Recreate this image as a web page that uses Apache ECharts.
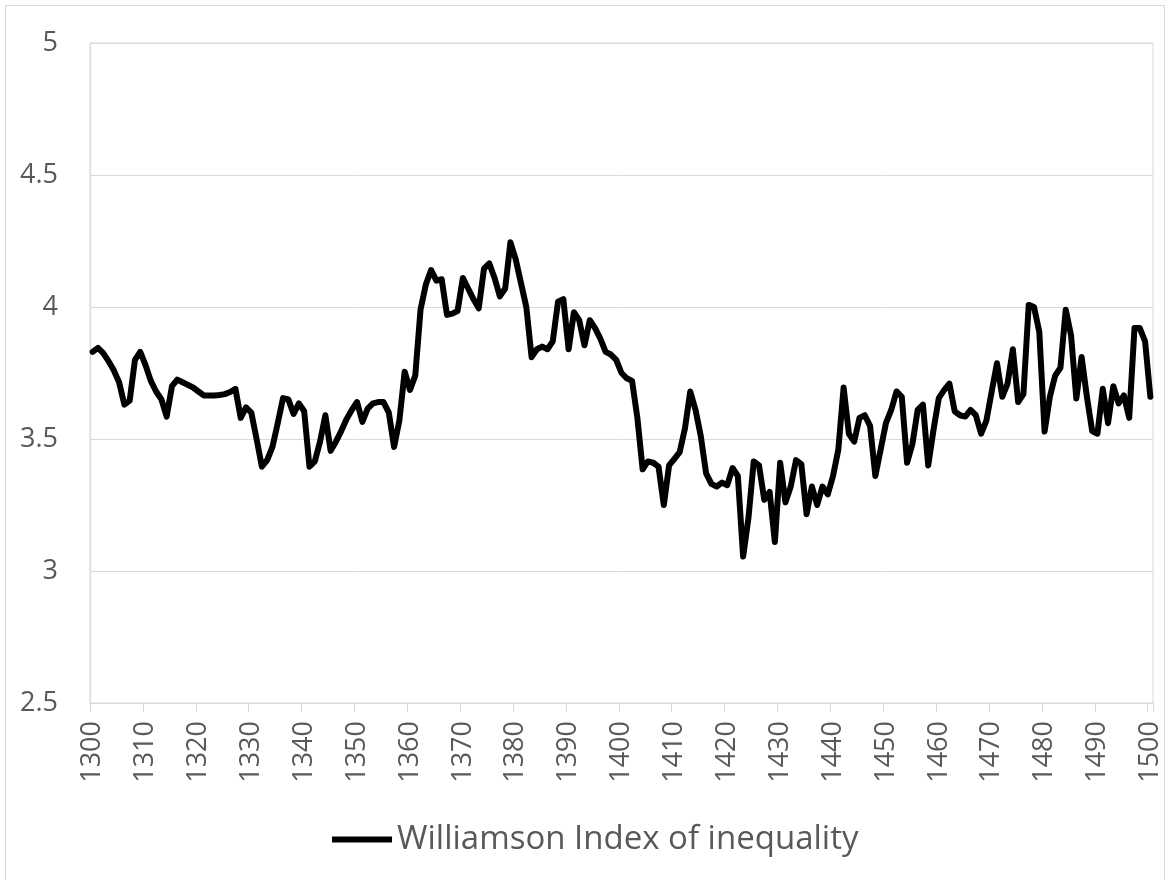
<!DOCTYPE html>
<html>
<head>
<meta charset="utf-8">
<title>Williamson Index of inequality</title>
<script src="https://cdn.jsdelivr.net/npm/echarts@6/dist/echarts.min.js"></script>
<style>
  html, body { margin: 0; padding: 0; background: #fff; }
  #chart { width: 1170px; height: 880px; }
</style>
</head>
<body>
<div id="chart"></div>
<script>
// years 1300..1500, one value per year
const firstYear = 1300;
const lastYear = 1500;
const years = [];
for (let y = firstYear; y <= lastYear; y++) years.push(String(y));

const seriesName = 'Williamson Index of inequality';

// year by year
const williamson = [
  3.83, 3.845, 3.825, 3.795, 3.76, 3.715, 3.63, 3.645, 3.80, 3.83,   // 1300
  3.78, 3.72, 3.68, 3.65, 3.585, 3.70, 3.725, 3.715, 3.705, 3.695,   // 1310
  3.68, 3.665, 3.665, 3.665, 3.667, 3.67, 3.678, 3.69, 3.58, 3.62,   // 1320
  3.60, 3.50, 3.395, 3.42, 3.47, 3.56, 3.655, 3.65, 3.595, 3.635,    // 1330
  3.605, 3.395, 3.415, 3.49, 3.59, 3.455, 3.49, 3.53, 3.575, 3.61,   // 1340
  3.64, 3.565, 3.615, 3.635, 3.64, 3.64, 3.60, 3.47, 3.57, 3.755,    // 1350
  3.686, 3.74, 3.99, 4.085, 4.14, 4.10, 4.105, 3.97, 3.975, 3.985,   // 1360
  4.11, 4.07, 4.03, 3.995, 4.145, 4.165, 4.11, 4.04, 4.07, 4.245,    // 1370
  4.18, 4.09, 4.00, 3.81, 3.84, 3.85, 3.84, 3.87, 4.02, 4.03,        // 1380
  3.84, 3.98, 3.95, 3.855, 3.95, 3.92, 3.88, 3.83, 3.82, 3.80,       // 1390
  3.75, 3.73, 3.72, 3.58, 3.385, 3.415, 3.41, 3.395, 3.25, 3.40,     // 1400
  3.425, 3.45, 3.54, 3.68, 3.61, 3.51, 3.37, 3.33, 3.32, 3.335,      // 1410
  3.325, 3.39, 3.36, 3.055, 3.20, 3.415, 3.40, 3.27, 3.30, 3.11,     // 1420
  3.41, 3.26, 3.32, 3.42, 3.405, 3.215, 3.32, 3.25, 3.32, 3.29,      // 1430
  3.36, 3.46, 3.695, 3.52, 3.49, 3.58, 3.59, 3.55, 3.36, 3.46,       // 1440
  3.56, 3.61, 3.68, 3.66, 3.41, 3.48, 3.61, 3.63, 3.40, 3.535,       // 1450
  3.655, 3.685, 3.71, 3.605, 3.59, 3.585, 3.61, 3.59, 3.52, 3.57,    // 1460
  3.68, 3.787, 3.66, 3.71, 3.84, 3.64, 3.67, 4.008, 4.0, 3.906,      // 1470
  3.528, 3.66, 3.74, 3.77, 3.99, 3.893, 3.653, 3.811, 3.66, 3.53,    // 1480
  3.52, 3.69, 3.56, 3.70, 3.635, 3.665, 3.58, 3.92, 3.92, 3.87,      // 1490
  3.66                                                               // 1500
];

const yMin = 2.5;
const yMax = 5;
const yStep = 0.5;

const textColor = '#595959';
const lineGray = '#d9d9d9';
const font = '"Open Sans", "Liberation Sans", sans-serif';

let myChart = echarts.init(document.getElementById('chart'));

let option = {
  animation: false,
  backgroundColor: '#fff',
  textStyle: { fontFamily: font },
  graphic: [{
    type: 'rect',
    shape: { x: 5.5, y: 5.5, width: 1159, height: 890 },
    style: { fill: 'none', stroke: lineGray, lineWidth: 1 },
    silent: true
  }],
  grid: {
    left: 90,
    right: 17,
    top: 43,
    bottom: 177,
    show: true,
    borderColor: lineGray,
    borderWidth: 1
  },
  legend: {
    left: 327,
    top: 818,
    icon: 'rect',
    itemWidth: 60,
    itemHeight: 6,
    textStyle: { color: textColor, fontSize: 33, fontFamily: font },
    data: [seriesName]
  },
  xAxis: {
    type: 'category',
    data: years,
    boundaryGap: true,
    axisLine: { show: true, lineStyle: { color: lineGray } },
    axisTick: { show: true, interval: 9, length: 9, lineStyle: { color: lineGray } },
    axisLabel: {
      interval: 9,
      rotate: 90,
      margin: 18,
      color: textColor,
      fontSize: 27,
      fontFamily: font
    },
    splitLine: { show: false }
  },
  yAxis: {
    type: 'value',
    min: yMin,
    max: yMax,
    interval: yStep,
    axisLine: { show: true, lineStyle: { color: lineGray } },
    axisTick: { show: false },
    axisLabel: { margin: 32, color: textColor, fontSize: 27, fontFamily: font },
    splitLine: { show: true, lineStyle: { color: lineGray, width: 1 } }
  },
  series: [{
    name: seriesName,
    type: 'line',
    data: williamson,
    symbol: 'none',
    color: '#000',
    lineStyle: { color: '#000', width: 6, join: 'round', cap: 'round' }
  }]
};

myChart.setOption(option);
window.onresize = function () {
  myChart.resize();
};
</script>
</body>
</html>
